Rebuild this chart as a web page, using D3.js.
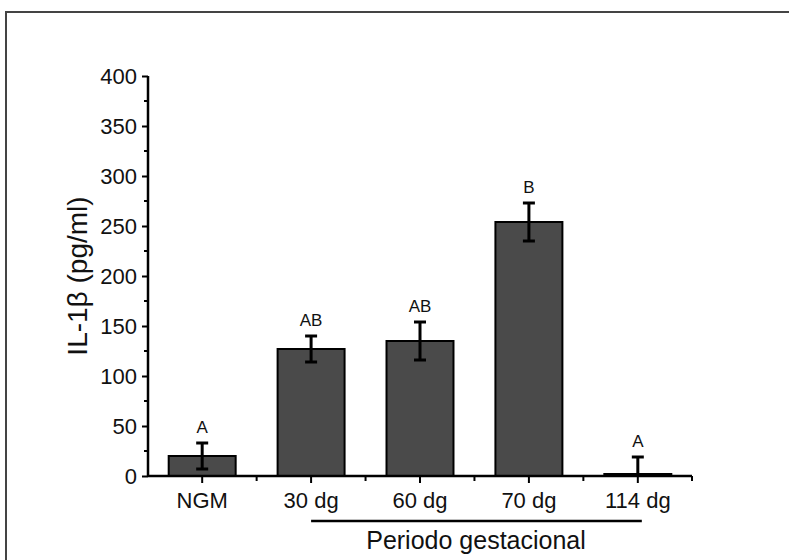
<!DOCTYPE html>
<html>
<head>
<meta charset="utf-8">
<script src="https://cdn.jsdelivr.net/npm/d3@7"></script>
<style>
  body { margin: 0; background: #fff; }
  svg { display: block; }
  text { font-family: "Liberation Sans", Arial, sans-serif; fill: #111; }
</style>
</head>
<body>
<svg id="chart"></svg>
<script>
// data
const groups = ["NGM", "30 dg", "60 dg", "70 dg", "114 dg"];
const means = [20, 127, 135, 254, 2];
const errors = [13, 13, 19, 19, 17];
const letters = ["A", "AB", "AB", "B", "A"];
const yTicks = [0, 50, 100, 150, 200, 250, 300, 350, 400];

let width = 789;
let height = 560;

let svg = d3.select("#chart")
    .attr("width", width)
    .attr("height", height);

// outer frame (runs off the right and bottom edge)
svg.append("rect")
    .attr("x", 6)
    .attr("y", 12)
    .attr("width", 800)
    .attr("height", 600)
    .attr("fill", "none")
    .attr("stroke", "#444")
    .attr("stroke-width", 2);

let x = d3.scaleBand()
    .domain(groups)
    .range([148, 692])
    .paddingInner(0.385)
    .paddingOuter(0.19);

let y = d3.scaleLinear()
    .domain([0, 400])
    .range([476, 76]);

let g = svg.append("g");

// bars
g.selectAll(".bar")
    .data(groups)
    .enter()
    .append("rect")
    .attr("class", "bar")
    .attr("x", d => x(d))
    .attr("width", x.bandwidth())
    .attr("y", (d, i) => y(means[i]))
    .attr("height", (d, i) => y(0) - y(means[i]))
    .attr("fill", "#4a4a4a")
    .attr("stroke", "#000")
    .attr("stroke-width", 2);

// error bars
let cx = d => x(d) + x.bandwidth() / 2;
let err = g.selectAll(".err")
    .data(groups)
    .enter()
    .append("g")
    .attr("class", "err")
    .attr("stroke", "#000")
    .attr("stroke-width", 3);

err.append("line")
    .attr("x1", cx).attr("x2", cx)
    .attr("y1", (d, i) => y(means[i] + errors[i]))
    .attr("y2", (d, i) => y(Math.max(0, means[i] - errors[i])));

err.append("line")
    .attr("x1", d => cx(d) - 6).attr("x2", d => cx(d) + 6)
    .attr("y1", (d, i) => y(means[i] + errors[i]))
    .attr("y2", (d, i) => y(means[i] + errors[i]));

err.filter((d, i) => means[i] - errors[i] > 0)
    .append("line")
    .attr("x1", d => cx(d) - 6).attr("x2", d => cx(d) + 6)
    .attr("y1", d => y(means[groups.indexOf(d)] - errors[groups.indexOf(d)]))
    .attr("y2", d => y(means[groups.indexOf(d)] - errors[groups.indexOf(d)]));

// significance letters
g.selectAll(".letter")
    .data(groups)
    .enter()
    .append("text")
    .attr("class", "letter")
    .attr("x", cx)
    .attr("y", (d, i) => y(means[i] + errors[i]) - 10)
    .attr("text-anchor", "middle")
    .style("font-size", "17px")
    .text((d, i) => letters[i]);

// y axis
let yAxis = d3.axisLeft(y)
    .tickValues(yTicks)
    .tickSize(6)
    .tickPadding(5);

let yg = svg.append("g")
    .attr("transform", "translate(148,0)")
    .call(yAxis);

// minor ticks on y
yg.selectAll(".minor")
    .data(d3.range(25, 400, 50))
    .enter()
    .append("line")
    .attr("class", "minor")
    .attr("x1", 0).attr("x2", -4)
    .attr("y1", d => y(d)).attr("y2", d => y(d))
    .attr("stroke", "#000")
    .attr("stroke-width", 2);

// x axis
let xAxis = d3.axisBottom(x)
    .tickSize(7)
    .tickPadding(9);

let xg = svg.append("g")
    .attr("transform", "translate(0,476)")
    .call(xAxis);

// minor ticks between groups
let bounds = [];
for (let i = 1; i < groups.length; i++) {
    bounds.push((cx(groups[i - 1]) + cx(groups[i])) / 2);
}
bounds.push(692);
xg.selectAll(".minor")
    .data(bounds)
    .enter()
    .append("line")
    .attr("class", "minor")
    .attr("x1", d => d).attr("x2", d => d)
    .attr("y1", 0).attr("y2", 5)
    .attr("stroke", "#000")
    .attr("stroke-width", 2);

[yg, xg].forEach(a => {
    a.attr("font-size", null).attr("font-family", null);
    a.select(".domain").attr("stroke", "#000").attr("stroke-width", 2.5);
    a.selectAll(".tick line").attr("stroke", "#000").attr("stroke-width", 2);
    a.selectAll(".tick text")
        .style("font-size", "22px")
        .attr("fill", "#111");
});
yg.select(".domain").attr("d", "M0,476V76");
xg.select(".domain").attr("d", "M148,0H692");

// y label
svg.append("text")
    .attr("transform", "translate(87,276) rotate(-90)")
    .attr("text-anchor", "middle")
    .style("font-size", "28px")
    .text("IL-1β (pg/ml)");

// bracket for gestational period
svg.append("line")
    .attr("x1", cx(groups[1]))
    .attr("x2", cx(groups[4]) + 4)
    .attr("y1", 521).attr("y2", 521)
    .attr("stroke", "#000")
    .attr("stroke-width", 2.5);

svg.append("text")
    .attr("x", 476)
    .attr("y", 549)
    .attr("text-anchor", "middle")
    .style("font-size", "25px")
    .text("Periodo gestacional");
</script>
</body>
</html>
